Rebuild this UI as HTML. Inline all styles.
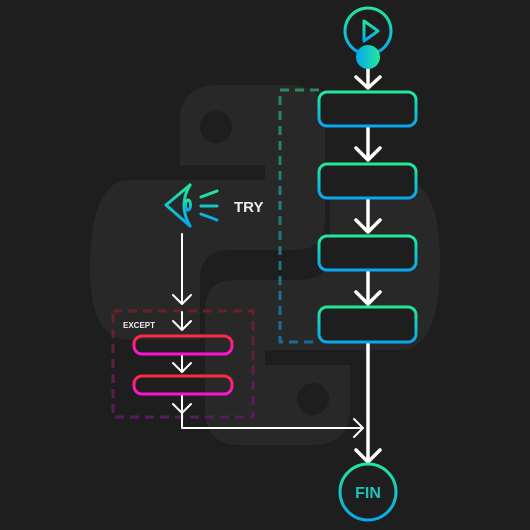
<!DOCTYPE html>
<html><head><meta charset="utf-8"><style>
html,body{margin:0;padding:0;background:#1e1e1e;}
svg{display:block;font-family:"Liberation Sans",sans-serif;}
</style></head><body>
<svg width="530" height="530" viewBox="0 0 530 530">
<defs>
<linearGradient id="gb" x1="0" y1="0" x2="0" y2="1"><stop offset="0" stop-color="#22e89a"/><stop offset="1" stop-color="#06a8f0"/></linearGradient>
<linearGradient id="gh" x1="0" y1="0" x2="1" y2="0"><stop offset="0" stop-color="#06a8f0"/><stop offset="1" stop-color="#22e89a"/></linearGradient>
<linearGradient id="gr" x1="0" y1="0" x2="0" y2="1"><stop offset="0" stop-color="#ff2a40"/><stop offset="1" stop-color="#ff10d8"/></linearGradient>
<linearGradient id="gd" gradientUnits="userSpaceOnUse" x1="0" y1="90" x2="0" y2="342"><stop offset="0" stop-color="#2a8a5a"/><stop offset="1" stop-color="#1a6a9a"/></linearGradient>
<linearGradient id="ge" gradientUnits="userSpaceOnUse" x1="0" y1="311" x2="0" y2="417"><stop offset="0" stop-color="#6a2028"/><stop offset="1" stop-color="#5a1a60"/></linearGradient>
</defs>
<rect width="530" height="530" fill="#1e1e1e"/>
<g fill="#282828">
<path d="M180 120 Q180 85 220 85 L290 85 Q325 85 325 120 L325 220 Q325 250 295 250 L230 250 Q200 250 200 280 L200 340 L130 340 Q90 340 90 270 Q90 180 130 180 L265 180 L265 165 L180 165 Z"/>
<path d="M350 410 Q350 445 310 445 L240 445 Q205 445 205 410 L205 310 Q205 280 235 280 L300 280 Q330 280 330 250 L330 180 L400 180 Q440 180 440 260 Q440 350 400 350 L265 350 L265 365 L350 365 Z"/>
<circle cx="216" cy="127" r="16" fill="#1e1e1e"/>
<circle cx="313" cy="399" r="16" fill="#1e1e1e"/>
</g>
<path d="M319 90H280V342H319" fill="none" stroke="url(#gd)" stroke-width="3" stroke-dasharray="9 6"/>
<rect x="113" y="311" width="140" height="106" fill="none" stroke="url(#ge)" stroke-width="3" stroke-dasharray="9 6"/>
<g stroke="#fff" stroke-width="3.5" fill="none" stroke-linecap="round" stroke-linejoin="round">
<path d="M368 68V88M356 77L368 88L380 77"/>
<path d="M368 126V160M356 148L368 160L380 148"/>
<path d="M368 198V232M356 220L368 232L380 220"/>
<path d="M368 270V304M356 292L368 304L380 292"/>
<path d="M368 342V462M356 450L368 462L380 450"/>
<path d="M182 234V304M173 295L182 304L191 295" stroke-width="2"/>
<path d="M182 312V330M173 321L182 330L191 321" stroke-width="2"/>
<path d="M182 354V372M173 363L182 372L191 363" stroke-width="2"/>
<path d="M182 394V428H362M173 404L182 413L191 404M354 419L363 428L354 437" stroke-width="2"/>
</g>
<circle cx="368" cy="31" r="23" fill="none" stroke="url(#gb)" stroke-width="3"/>
<path d="M364 21L378 31L364 41Z" fill="none" stroke="url(#gb)" stroke-width="3" stroke-linejoin="round"/>
<circle cx="368" cy="57" r="12" fill="url(#gh)"/>
<g fill="#1e1e1e" stroke="url(#gb)" stroke-width="3">
<rect x="319" y="92" width="97" height="34" rx="8"/>
<rect x="319" y="164" width="97" height="34" rx="8"/>
<rect x="319" y="236" width="97" height="34" rx="8"/>
<rect x="319" y="307" width="97" height="35" rx="8"/>
</g>
<g fill="none" stroke="url(#gr)" stroke-width="3">
<rect x="134" y="336" width="98" height="18" rx="8"/>
<rect x="134" y="376" width="98" height="18" rx="8"/>
</g>
<g fill="none" stroke="url(#gb)" stroke-width="3" stroke-linecap="round" stroke-linejoin="round">
<path d="M190 185L166 205L190 226"/>
<path d="M190 185Q178 205 190 226"/>
<ellipse cx="188" cy="205" rx="2.5" ry="5"/>
<path d="M201 197L217 191M201 206H217M201 214L217 220"/>
</g>
<text x="234" y="212" fill="#eee" font-size="15" font-weight="bold">TRY</text>
<text x="123" y="328" fill="#eee" font-size="8" font-weight="bold">EXCEPT</text>
<circle cx="368" cy="492" r="28" fill="none" stroke="url(#gb)" stroke-width="3"/>
<text x="368" y="498" fill="#1fc4b4" font-size="16" font-weight="bold" text-anchor="middle">FIN</text>
</svg>
</body></html>
